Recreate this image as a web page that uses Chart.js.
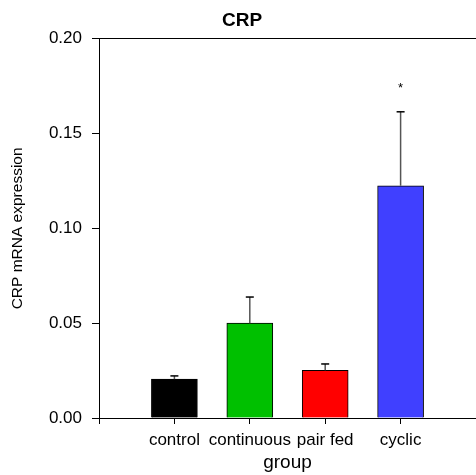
<!DOCTYPE html>
<html>
<head>
<meta charset="utf-8">
<script src="https://cdn.jsdelivr.net/npm/chart.js@4/dist/chart.umd.min.js"></script>
<style>
    html, body { margin: 0; padding: 0; background: #fff; }
    #wrap { width: 476px; height: 475px; }
</style>
</head>
<body>
<div id="wrap"><canvas id="crpChart"></canvas></div>
<script>
// Data
const groups = ["", "control", "continuous", "pair fed", "cyclic", ""];
const means = [null, 0.0205, 0.0500, 0.0252, 0.1225, null];
const errTop = [null, 0.0222, 0.0638, 0.0285, 0.1615, null];
const marks = [null, "", "", "", "*", null];
const markAt = [null, null, null, null, 0.174, null];
const barColors = ["#000", "#000000", "#00c000", "#ff0000", "#4040ff", "#000"];
const yTicks = [0, 0.05, 0.10, 0.15, 0.20];

const font = "'Liberation Sans', Arial, sans-serif";

// error bars + asterisk
const errorBars = {
    id: "errorBars",
    afterDatasetsDraw(chart) {
        const c = chart.ctx;
        const x = chart.scales.x;
        const y = chart.scales.y;
        c.save();
        for (let i = 0; i < groups.length; i++) {
            if (means[i] == null) continue;
            const px = x.getPixelForValue(i);
            const top = y.getPixelForValue(errTop[i]);
            const base = y.getPixelForValue(means[i]);
            c.strokeStyle = "#555";
            c.lineWidth = 1.5;
            c.beginPath();
            c.moveTo(px, base);
            c.lineTo(px, top);
            c.stroke();
            c.strokeStyle = "#000";
            c.beginPath();
            c.moveTo(px - 4, top);
            c.lineTo(px + 4, top);
            c.stroke();
            if (marks[i]) {
                c.fillStyle = "#000";
                c.font = "13px " + font;
                c.textAlign = "center";
                c.textBaseline = "middle";
                c.fillText(marks[i], px, y.getPixelForValue(markAt[i]));
            }
        }
        c.restore();
    }
};

new Chart(document.getElementById("crpChart"), {
    type: "bar",
    data: {
        labels: groups,
        datasets: [{
            data: means,
            backgroundColor: barColors,
            borderColor: "#000",
            borderWidth: 1,
            barThickness: 46
        }]
    },
    options: {
        responsive: true,
        maintainAspectRatio: false,
        animation: false,
        layout: { padding: { left: 8, right: 0, top: 9, bottom: 1 } },
        plugins: {
            legend: { display: false },
            tooltip: { enabled: false },
            title: {
                display: true,
                text: "CRP",
                color: "#000",
                font: { family: font, size: 19, weight: "bold" },
                padding: { top: 0, bottom: 7 }
            }
        },
        scales: {
            x: {
                offset: false,
                afterFit(axis) {
                    axis.height = 56;
                    axis.paddingRight = 0;
                    axis.paddingLeft = 0;
                },
                grid: { offset: false, drawOnChartArea: false, tickLength: 6, color: "#000" },
                border: { color: "#000", width: 1 },
                ticks: { color: "#000", font: { family: font, size: 17 }, padding: 6, autoSkip: false, maxRotation: 0 },
                title: { display: true, text: "group", color: "#000", font: { family: font, size: 19 }, padding: { top: 0, bottom: 0 } }
            },
            y: {
                min: 0,
                max: 0.2,
                afterBuildTicks(axis) {
                    axis.ticks = yTicks.map(v => ({ value: v }));
                },
                afterFit(axis) {
                    axis.width = 91;
                },
                grid: {
                    color: ctx => (ctx.tick && ctx.tick.value === 0.2 ? "#000" : "rgba(0,0,0,0)"),
                    tickColor: "#000",
                    tickLength: 7
                },
                border: { color: "#000", width: 1 },
                ticks: {
                    color: "#000",
                    font: { family: font, size: 17 },
                    padding: 10,
                    callback: v => v.toFixed(2)
                },
                title: { display: true, text: "CRP mRNA expression", color: "#000", font: { family: font, size: 15.5 }, padding: { top: 0, bottom: 22 } }
            }
        }
    },
    plugins: [errorBars]
});
</script>
</body>
</html>
